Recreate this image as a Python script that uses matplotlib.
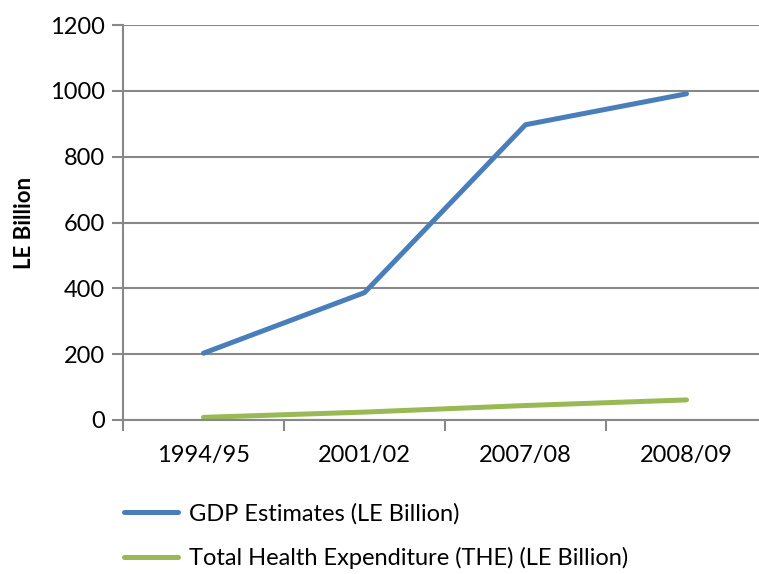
import matplotlib.pyplot as plt
import numpy as np

years = ['1994/95', '2001/02', '2007/08', '2008/09']
gdp = [203, 387, 897, 991]
the = [8, 24, 44, 61]

plt.rcParams['font.family'] = ['Lato', 'DejaVu Sans']

fig = plt.figure(figsize=(7.59, 5.74), dpi=100)
ax = fig.add_axes([123 / 759, 154 / 574, 644 / 759, 395 / 574])

x = np.arange(len(years))
ax.plot(x, gdp, color='#4a7ebb', lw=3.6, solid_capstyle='round', label='GDP Estimates (LE Billion)')
ax.plot(x, the, color='#98b954', lw=3.6, solid_capstyle='round', label='Total Health Expenditure (THE) (LE Billion)')

ax.set_xlim(-0.5, len(years) - 0.5)
ax.set_ylim(0, 1200)
ax.set_yticks(range(0, 1201, 200))
ax.set_xticks(x)
ax.set_xticklabels(years)
ax.set_xticks(np.arange(-0.5, len(years), 1), minor=True)
ax.tick_params(axis='x', which='major', length=0, pad=18, labelsize=17)
ax.tick_params(axis='x', which='minor', length=8, width=1.5, color='#888888')
ax.tick_params(axis='y', length=8, width=1.5, color='#888888', labelsize=17, pad=5)

ax.grid(axis='y', color='#888888', lw=1.5)
ax.set_axisbelow(True)
for s in ['top', 'right']:
    ax.spines[s].set_visible(False)
for s in ['left', 'bottom']:
    ax.spines[s].set_color('#888888')
    ax.spines[s].set_linewidth(1.5)

ax.set_ylabel('LE Billion', fontsize=16, fontweight='bold', labelpad=11)

fig.legend(loc='upper left', bbox_to_anchor=(124 / 759, 1 - 503 / 574), frameon=False,
           fontsize=17, handlelength=2.3, handletextpad=0.45, labelspacing=0.95,
           borderpad=0, borderaxespad=0)

fig.savefig('out.png', dpi=100)
